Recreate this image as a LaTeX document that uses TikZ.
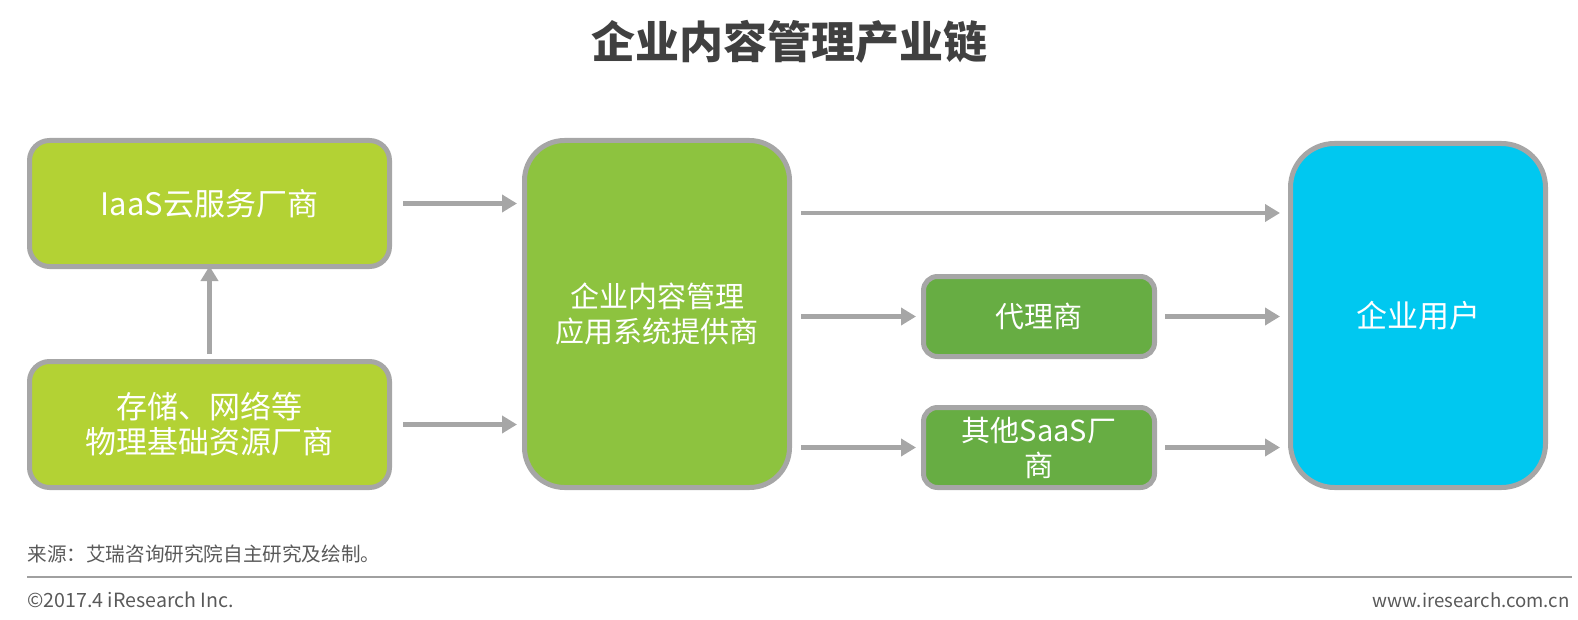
\documentclass[tikz,border=0pt]{standalone}
\usepackage{fontspec}
\setmainfont{Noto Sans CJK SC}
\usetikzlibrary{arrows.meta}
\definecolor{bordergray}{HTML}{A6A6A6}
\definecolor{arrowgray}{HTML}{A6A6A6}
\definecolor{limegreen}{HTML}{B3D234}
\definecolor{midgreen}{HTML}{8DC33F}
\definecolor{darkgreen}{HTML}{67AD43}
\definecolor{userblue}{HTML}{00C8F0}
\definecolor{titlegray}{HTML}{404040}
\definecolor{footgray}{HTML}{595959}
\definecolor{rulegray}{HTML}{A0A0A0}
\tikzset{
  box/.style={draw=bordergray, line width=2.5pt, text=white, align=center,
    inner sep=0pt, font=\fontsize{14.5}{17.5}\selectfont},
  bigtext/.style={font=\fontsize{15.5}{17.5}\selectfont},
  arr/.style={draw=arrowgray, line width=2.2pt, -{Triangle[length=7.5pt,width=8.5pt]}},
  foot/.style={text=footgray, font=\fontsize{9.8}{11}\selectfont, inner sep=0pt}
}
\begin{document}
\begin{tikzpicture}[x=0.5pt,y=-0.5pt]
\useasboundingbox (0,0) rectangle (1578,620);
\node[text=titlegray, font=\fontsize{22}{24}\selectfont\bfseries, inner sep=0pt] (title) at (789,42) {企业内容管理产业链};

\node[box, bigtext, fill=limegreen, rounded corners=10pt, minimum width=180pt, minimum height=63pt] (iaas) at (209.5,203.5) {IaaS云服务厂商};
\node[box, bigtext, fill=limegreen, rounded corners=10pt, minimum width=180pt, minimum height=63pt] (phys) at (209.5,424.5) {存储、网络等\\物理基础资源厂商};
\node[box, fill=midgreen, rounded corners=20pt, minimum width=132.5pt, minimum height=173.5pt] (ecm) at (657,314) {企业内容管理\\应用系统提供商};
\node[box, fill=darkgreen, rounded corners=7pt, minimum width=115.5pt, minimum height=40pt] (agent) at (1039,316.5) {代理商};
\node[box, fill=darkgreen, rounded corners=7pt, minimum width=115.5pt, minimum height=40pt] (saas) at (1039,447.5) {其他SaaS厂\\商};
\node[box, bigtext, fill=userblue, rounded corners=22pt, minimum width=127.5pt, minimum height=172pt] (user) at (1418,315.5) {企业用户};

\draw[arr] ([yshift=2.5pt]phys.north) -- ([yshift=1.5pt]iaas.south);
\draw[arr] ([xshift=5.5pt]iaas.east) -- ([xshift=-2.5pt]iaas.east -| ecm.west);
\draw[arr] ([xshift=5.5pt]phys.east) -- ([xshift=-2.5pt]phys.east -| ecm.west);
\coordinate (topy) at (0,213);
\draw[arr] ([xshift=4.5pt]ecm.east |- topy) -- ([xshift=-4pt]user.west |- topy);
\draw[arr] ([xshift=4.5pt]ecm.east |- agent.west) -- ([xshift=-2.5pt]agent.west);
\draw[arr] ([xshift=4.5pt]ecm.east |- saas.west) -- ([xshift=-2.5pt]saas.west);
\draw[arr] ([xshift=4pt]agent.east) -- ([xshift=-4pt]agent.east -| user.west);
\draw[arr] ([xshift=4pt]saas.east) -- ([xshift=-4pt]saas.east -| user.west);

\node[foot, anchor=west] (src) at (27,554) {来源：艾瑞咨询研究院自主研究及绘制。};
\coordinate (rl) at (27,577);
\coordinate (rr) at (1572,577);
\draw[rulegray, line width=1pt] (rl) -- (rr);
\node[foot, anchor=west] (copy) at (27,600) {©2017.4 iResearch Inc.};
\node[foot, anchor=east, font=\fontsize{9.3}{11}\selectfont] (web) at (1570,600) {www.iresearch.com.cn};
\end{tikzpicture}
\end{document}
